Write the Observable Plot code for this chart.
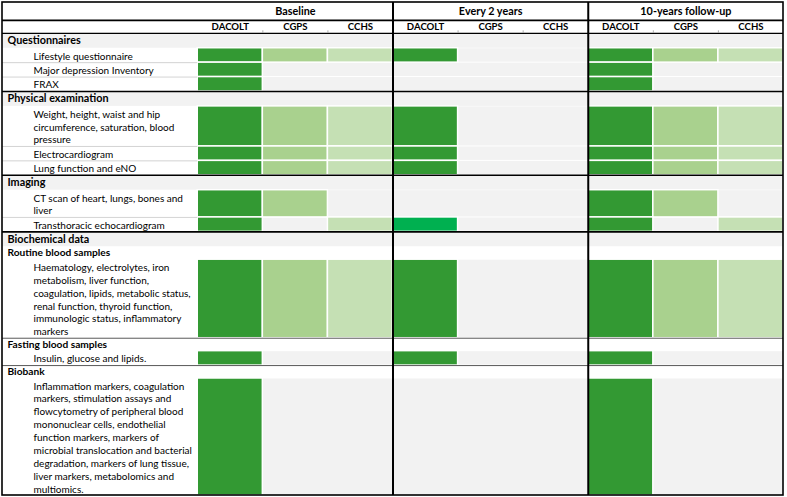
<!DOCTYPE html>
<html><head><meta charset="utf-8">
<script src="https://cdn.jsdelivr.net/npm/d3@7"></script>
<script src="https://cdn.jsdelivr.net/npm/@observablehq/plot@0.6"></script>
<style>body{margin:0;background:#fff}</style>
</head><body><div id="chart"></div>
<script>
const groups = ["Baseline", "Every 2 years", "10-years follow-up"];
const cohorts = ["DACOLT", "CGPS", "CCHS"];
const rowLabels = [
  "Questionnaires",
  "Lifestyle questionnaire",
  "Major depression Inventory",
  "FRAX",
  "Physical examination",
  "Weight, height, waist and hip\ncircumference, saturation, blood\npressure",
  "Electrocardiogram",
  "Lung function and eNO",
  "Imaging",
  "CT scan of heart, lungs, bones and\nliver",
  "Transthoracic echocardiogram",
  "Biochemical data",
  "Routine blood samples",
  "Haematology, electrolytes, iron\nmetabolism, liver function,\ncoagulation, lipids, metabolic status,\nrenal function, thyroid function,\nimmunologic status, inflammatory\nmarkers",
  "Fasting blood samples",
  "Insulin, glucose and lipids.",
  "Biobank",
  "Inflammation markers, coagulation\nmarkers, stimulation assays and\nflowcytometry of peripheral blood\nmononuclear cells, endothelial\nfunction markers, markers of\nmicrobial translocation and bacterial\ndegradation, markers of lung tissue,\nliver markers, metabolomics and\nmultiomics."
];
const rowKinds = ["section","item","item","item","section","item","item","item","section","item","item","section","subsection","item","subsection","item","subsection","item"];
const baselineCohorts = [[], ["DACOLT","CGPS","CCHS"], ["DACOLT"], ["DACOLT"], [], ["DACOLT","CGPS","CCHS"], ["DACOLT","CGPS","CCHS"], ["DACOLT","CGPS","CCHS"], [], ["DACOLT","CGPS"], ["DACOLT","CCHS"], [], [], ["DACOLT","CGPS","CCHS"], [], ["DACOLT"], [], ["DACOLT"]];
const every2Cohorts = [[], ["DACOLT"], [], [], [], ["DACOLT"], ["DACOLT"], ["DACOLT"], [], [], ["DACOLT"], [], [], ["DACOLT"], [], ["DACOLT"], [], []];
const followupCohorts = [[], ["DACOLT","CGPS","CCHS"], ["DACOLT"], ["DACOLT"], [], ["DACOLT","CGPS","CCHS"], ["DACOLT","CGPS","CCHS"], ["DACOLT","CGPS","CCHS"], [], ["DACOLT","CGPS"], ["DACOLT","CCHS"], [], [], ["DACOLT","CGPS","CCHS"], [], ["DACOLT"], [], ["DACOLT"]];
const emphasised = [{row: "Transthoracic echocardiogram", group: "Every 2 years", cohort: "DACOLT"}];
const cohortColors = ["#339933", "#a9d18e", "#c5e0b4"];
const emphasisColor = "#00b050";

// ---- layout (derived from content) ----
const FONT = "Lato, 'Noto Sans', sans-serif";
const FS = 10;
const FS_SECTION = 10.8;
const FS_SUB = 10.2;
const FS_GROUP = 10.8;
const FS_COL = 9.6;
const LINE = 12.9;
const hdr1 = 18, hdr2 = 13;
const kindHeight = {section: 15, subsection: 13};
let yPos = hdr1 + hdr2;
const rows = rowLabels.map((label, i) => {
  const kind = rowKinds[i];
  const n = label.split("\n").length;
  const h = kind === "item" ? LINE * n + 1.6 : kindHeight[kind];
  const r = {label, kind, i, prev: i > 0 ? rowKinds[i - 1] : "header", y1: yPos, y2: yPos + h};
  yPos += h;
  return r;
});
const total = yPos;
const labelUnits = 3;
const xEnd = labelUnits + groups.length * cohorts.length;
const perGroup = [baselineCohorts, every2Cohorts, followupCohorts];
const cells = [];
rows.forEach((r, i) => groups.forEach((g, gi) => perGroup[gi][i].forEach(c => {
  const ci = cohorts.indexOf(c);
  const emph = emphasised.some(e => e.row === r.label && e.group === g && e.cohort === c);
  const x1 = labelUnits + gi * cohorts.length + ci;
  cells.push({row: r.label, group: g, cohort: c, x1, x2: x1 + 1, y1: r.y1, y2: r.y2, key: emph ? "emph" : c});
})));
const colHeads = [];
groups.forEach((g, gi) => cohorts.forEach((c, ci) => colHeads.push({c, x: labelUnits + gi * 3 + ci + 0.5})));
const groupHeads = groups.map((g, gi) => ({g, x: labelUnits + gi * 3 + 1.5}));
const groupBounds = groups.slice(1).map((g, gi) => labelUnits + (gi + 1) * 3);
const colTicks = [];
groups.forEach((g, gi) => [1, 2].forEach(k => colTicks.push(labelUnits + gi * 3 + k)));

const items = rows.filter(r => r.kind === "item");
const sections = rows.filter(r => r.kind === "section");
const subsections = rows.filter(r => r.kind === "subsection");

const chart = Plot.plot({
  width: 787, height: 497,
  margin: 0,
  style: {background: "white", fontFamily: FONT},
  x: {domain: [0, xEnd], range: [2, 783], axis: null},
  y: {domain: [0, total], range: [2, 495], axis: null},
  color: {domain: [...cohorts, "emph"], range: [...cohortColors, emphasisColor]},
  marks: [
    Plot.rect(items, {x1: () => labelUnits, x2: () => xEnd, y1: "y1", y2: "y2", fill: "#f2f2f2", insetTop: 0.5, insetBottom: 0.5}),
    Plot.rect(sections, {x1: () => 0, x2: () => xEnd, y1: "y1", y2: "y2", fill: "#f2f2f2"}),
    Plot.rect(cells, {x1: "x1", x2: "x2", y1: "y1", y2: "y2", fill: "key", stroke: "white", strokeWidth: 1.5}),
    Plot.ruleY(items.filter(r => r.prev === "item"), {y: "y1", x1: () => 0, x2: () => labelUnits, stroke: "#c8c8c8", strokeWidth: 0.8}),
    Plot.ruleY(subsections.filter(r => r.prev === "item"), {y: "y1", x1: () => 0, x2: () => xEnd, stroke: "#595959", strokeWidth: 1}),
    Plot.ruleY(sections.filter(r => r.i > 0), {y: "y1", x1: () => 0, x2: () => xEnd, stroke: "black", strokeWidth: 1.6}),
    Plot.ruleY([hdr1], {x1: () => 0, x2: () => xEnd, stroke: "black", strokeWidth: 1.6}),
    Plot.ruleY([hdr1 + hdr2], {x1: () => 0, x2: () => xEnd, stroke: "black", strokeWidth: 1.2}),
    Plot.ruleX(colTicks, {y1: () => hdr1 + hdr2 - 2.5, y2: () => hdr1 + hdr2, stroke: "#9a9a9a", strokeWidth: 0.8}),
    Plot.ruleX(groupBounds, {y1: () => 0, y2: () => total, stroke: "black", strokeWidth: 2}),
    Plot.rect([{}], {x1: () => 0, x2: () => xEnd, y1: () => 0, y2: () => total, fill: "none", stroke: "black", strokeWidth: 1.6}),
    Plot.text(groupHeads, {x: "x", y: () => hdr1 / 2, text: "g", fontWeight: "bold", fontSize: FS_GROUP, fontFamily: FONT, fill: "black"}),
    Plot.text(colHeads, {x: "x", y: () => hdr1 + hdr2 / 2, text: "c", fontWeight: "bold", fontSize: FS_COL, fontFamily: FONT, fill: "black"}),
    Plot.text(sections, {x: () => 0, y: d => (d.y1 + d.y2) / 2, text: "label", textAnchor: "start", dx: 5, fontWeight: "bold", fontSize: FS_SECTION, fontFamily: FONT, fill: "black"}),
    Plot.text(subsections, {x: () => 0, y: d => (d.y1 + d.y2) / 2, text: "label", textAnchor: "start", dx: 5, fontWeight: "bold", fontSize: FS_SUB, fontFamily: FONT, fill: "black"}),
    Plot.text(items, {x: () => 0, y: d => (d.y1 + d.y2) / 2, text: "label", textAnchor: "start", dx: 31, lineHeight: LINE / FS, fontSize: FS, fontFamily: FONT, fill: "black"})
  ]
});
document.getElementById("chart").appendChild(chart);
</script>
</body></html>
